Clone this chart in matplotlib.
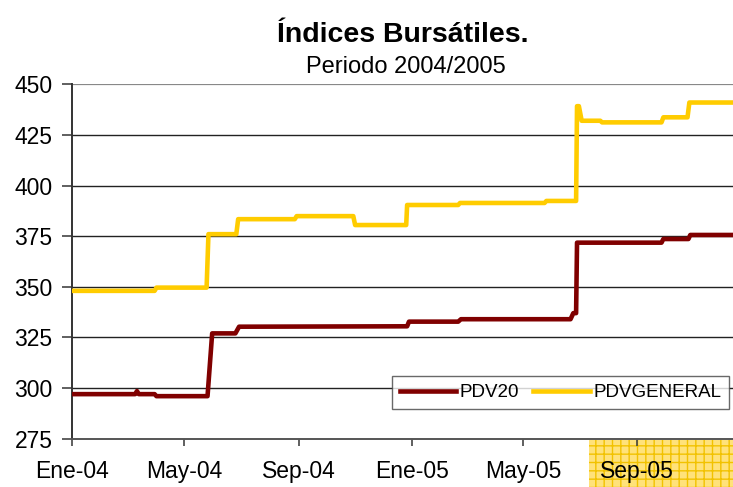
import matplotlib
matplotlib.use("Agg")
import matplotlib.pyplot as plt
from matplotlib.patches import Rectangle
import pandas as pd

plt.rcParams['font.family'] = ['Liberation Sans', 'DejaVu Sans']

title = "Índices Bursátiles."
subtitle = "Periodo 2004/2005"

pdv20_dates = ["2004-01-01", "2004-03-09", "2004-03-11", "2004-03-13", "2004-03-30",
               "2004-04-01", "2004-05-26", "2004-05-31", "2004-06-25", "2004-06-29",
               "2004-12-27", "2004-12-29", "2005-02-20", "2005-02-23", "2005-06-21",
               "2005-06-24", "2005-06-27", "2005-06-28", "2005-09-27", "2005-09-29",
               "2005-10-26", "2005-10-28", "2005-12-31"]
pdv20_values = [297, 297, 298.5, 297, 297,
                296, 296, 327, 327, 330.3,
                330.5, 332.8, 332.8, 334, 334,
                337, 337, 371.8, 371.8, 373.6,
                373.6, 375.6, 375.6]

gen_dates = ["2004-01-01", "2004-03-30", "2004-04-01", "2004-05-25", "2004-05-27",
             "2004-06-26", "2004-06-28", "2004-08-28", "2004-08-30", "2004-10-30",
             "2004-11-01", "2004-12-26", "2004-12-27", "2005-02-20", "2005-02-22",
             "2005-05-24", "2005-05-26", "2005-06-27", "2005-06-28", "2005-06-30",
             "2005-07-03", "2005-07-23", "2005-07-25", "2005-09-27", "2005-09-29",
             "2005-10-25", "2005-10-27", "2005-12-31"]
gen_values = [348, 348, 349.6, 349.6, 376,
              376, 383.4, 383.4, 384.9, 384.9,
              380.5, 380.5, 390.4, 390.4, 391.4,
              391.4, 392.4, 392.4, 439.2, 439.2,
              432, 432, 431.2, 431.2, 433.7,
              433.7, 441, 441]

series_names = ["PDV20", "PDVGENERAL"]
series_colors = ["#800000", "#FFCC00"]

yticks = [275, 300, 325, 350, 375, 400, 425, 450]
xtick_dates = ["2004-01-01", "2004-05-01", "2004-09-01", "2005-01-01", "2005-05-01", "2005-09-01"]
xtick_labels = ["Ene-04", "May-04", "Sep-04", "Ene-05", "May-05", "Sep-05"]

fig = plt.figure(figsize=(7.33, 4.87), dpi=100)
fig.patch.set_facecolor("white")

# decorative yellow grid patch (bottom-right of the reference)
bg = Rectangle((0.8035, 0.0), 0.1965, 0.0965, transform=fig.transFigure,
               facecolor="#FFE27A", edgecolor="#F2C200", hatch="++",
               linewidth=0, zorder=-5)
fig.add_artist(bg)

ax = fig.add_axes([0.0982, 0.0992, 0.9018, 0.7277])
ax.set_zorder(2)
ax.set_facecolor("white")

d1 = pd.to_datetime(pdv20_dates)
d2 = pd.to_datetime(gen_dates)
ax.plot(d1, pdv20_values, color=series_colors[0], lw=3.3, label=series_names[0],
        solid_joinstyle="round", zorder=3)
ax.plot(d2, gen_values, color=series_colors[1], lw=3.3, label=series_names[1],
        solid_joinstyle="round", zorder=3)

ax.set_ylim(275, 450)
ax.set_xlim(pd.Timestamp("2004-01-01"), pd.Timestamp("2005-12-13"))
ax.set_yticks(yticks)
ax.set_yticklabels([str(v) for v in yticks])
ax.set_xticks(pd.to_datetime(xtick_dates))
ax.set_xticklabels(xtick_labels)

for v in yticks[1:]:
    ax.axhline(v, color="#222222" if v != 450 else "#888888", lw=1.0 if v != 450 else 1.6, zorder=1)

for s in ["top", "right"]:
    ax.spines[s].set_visible(False)
ax.spines["left"].set_color("#333333")
ax.spines["left"].set_linewidth(1.4)
ax.spines["bottom"].set_color("#555555")
ax.spines["bottom"].set_linewidth(1.4)

ax.tick_params(axis="y", direction="out", length=7, width=1.2, color="#444444",
               labelsize=16.5, pad=7)
ax.tick_params(axis="x", direction="out", length=5, width=1.2, color="#444444",
               labelsize=16.5, pad=10)

leg = ax.legend(loc="lower right", bbox_to_anchor=(0.9945, 0.083), ncol=2, fontsize=13.5,
                frameon=True, fancybox=False, edgecolor="#444444", handlelength=3.0,
                handletextpad=0.2, columnspacing=0.75, borderpad=0.42,
                borderaxespad=0.0)
leg.get_frame().set_linewidth(1.0)

fig.text(0.55, 0.9144, title, ha="center", va="baseline", fontsize=20.5, fontweight="bold")
fig.text(0.554, 0.8507, subtitle, ha="center", va="baseline", fontsize=17)

fig.savefig("out.png", dpi=100)
